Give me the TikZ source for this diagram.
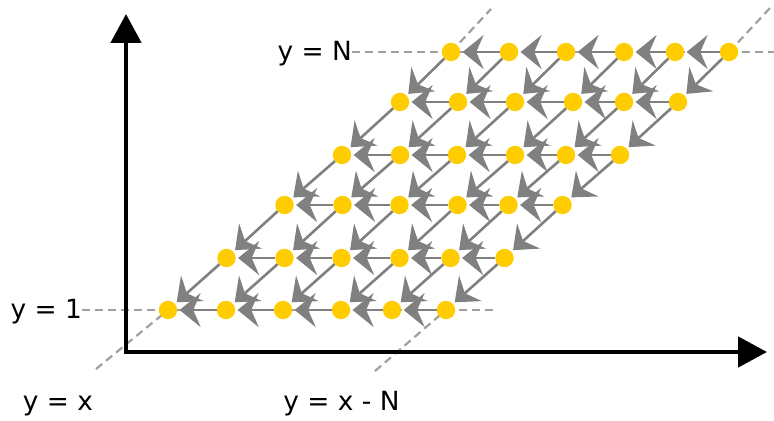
\documentclass[tikz,border=0pt]{standalone}
\usepackage{fontspec}
\setmainfont{DejaVu Sans}
\usetikzlibrary{arrows.meta,backgrounds}
\definecolor{dotc}{HTML}{FFCC00}
\definecolor{arrc}{HTML}{808080}
\definecolor{dashc}{HTML}{A0A0A0}
\begin{document}
\begin{tikzpicture}[x=0.5pt,y=-0.5pt,
  dot/.style={circle,fill=dotc,inner sep=0pt,outer sep=0pt,minimum size=9.2pt},
  flow/.style={draw=arrc,line width=1.3pt,-{Stealth[length=10.5pt,width=17pt,inset=3.7pt]},shorten >=1.2pt},
  guide/.style={draw=dashc,line width=1.1pt,dash pattern=on 4pt off 2.5pt},
  axis/.style={line width=2.4pt,line join=miter,{Triangle[length=14.5pt,width=15pt]}-{Triangle[length=14.5pt,width=15pt]}},
  lab/.style={font=\fontsize{13.2pt}{15pt}\selectfont,inner sep=0pt,outer sep=0pt}]
\useasboundingbox (0,0) rectangle (774,421);
% grid points
\foreach \r/\sx/\yy in {1/168/310, 2/226.5/258, 3/284.5/205, 4/342/155, 5/400/102, 6/451/52} {
  \foreach \c/\ox in {1/0,2/58,3/115,4/173,5/224,6/278} {
    \node[dot] (p\r\c) at ({\sx+\ox},\yy) {};
  }
}
% labels
\node[lab,anchor=mid east] (lN) at (352,55) {y = N};
\node[lab,anchor=mid east] (l1) at (82,313) {y = 1};
\node[lab,anchor=mid] (lx) at (58,405) {y = x};
\node[lab,anchor=mid] (lxn) at (341.5,405) {y = x - N};
% free ends
\coordinate (s1) at (82,310);
\coordinate (sN) at (352,52);
\coordinate (e1) at (497,310);
\coordinate (eN) at (774,52);
\coordinate (dx) at (96,369);
\coordinate (ux) at (491,9);
\coordinate (dxn) at (375,371);
\coordinate (uxn) at (770,8);
\coordinate (O) at (126,352);
\coordinate (ytip) at (126,14);
\coordinate (xtip) at (767,352);
\begin{scope}[on background layer]
  \draw[guide] (s1) -- (e1);
  \draw[guide] (sN) -- (eN);
  \draw[guide] (dx) -- (p11.center);
  \draw[guide] (p61.center) -- (ux);
  \draw[guide] (dxn) -- (p16.center);
  \draw[guide] (p66.center) -- (uxn);
  \draw[axis] (ytip) -- (O) -- (xtip);
  \foreach \r in {1,...,6} {
    \foreach \c [evaluate=\c as \n using int(\c+1)] in {1,...,5} {
      \draw[flow] (p\r\n) -- (p\r\c);
    }
  }
  \foreach \r [evaluate=\r as \n using int(\r+1)] in {1,...,5} {
    \foreach \c in {1,...,6} {
      \draw[flow] (p\n\c) -- (p\r\c);
    }
  }
\end{scope}
\end{tikzpicture}
\end{document}
